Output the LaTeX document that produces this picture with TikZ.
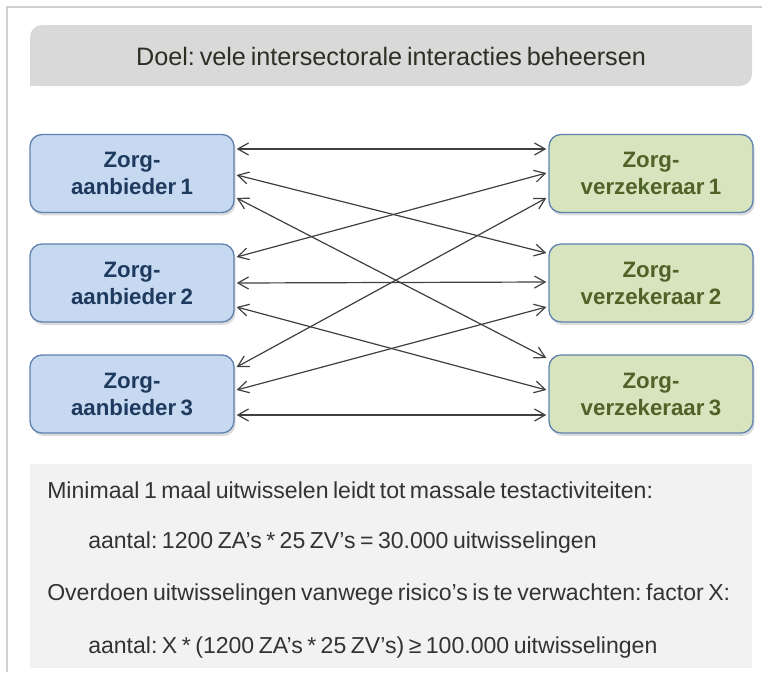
\documentclass[tikz,border=0pt]{standalone}
\usepackage{fontspec}
\setmainfont{Liberation Sans}
\newfontfamily\tightsans[WordSpace=0.7]{Liberation Sans}
\usetikzlibrary{arrows.meta,shadows,calc}
\definecolor{framegray}{HTML}{D0D0D0}
\definecolor{titlegray}{HTML}{D9D9D9}
\definecolor{titletext}{HTML}{2E2E24}
\definecolor{panelgray}{HTML}{F2F2F2}
\definecolor{paneltext}{HTML}{333333}
\definecolor{zafill}{HTML}{C6D9F1}
\definecolor{zvfill}{HTML}{D7E4BD}
\definecolor{boxborder}{HTML}{5F82B0}
\definecolor{zatext}{HTML}{1F3A5F}
\definecolor{zvtext}{HTML}{4F6228}
\definecolor{arrowgray}{HTML}{404040}
\frenchspacing
\tikzset{
  boxbase/.style={draw=boxborder, line width=1pt, rounded corners=9pt,
    minimum width=153pt, minimum height=58.5pt, inner sep=0pt, align=center,
    font=\tightsans\bfseries\fontsize{16.7pt}{20.25pt}\selectfont,
    drop shadow={shadow xshift=1.2pt, shadow yshift=-2.2pt, opacity=0.28}},
  zabox/.style={boxbase, fill=zafill, text=zatext},
  zvbox/.style={boxbase, fill=zvfill, text=zvtext},
  conn/.style={{Straight Barb[length=8pt,width=9pt]}-{Straight Barb[length=8pt,width=9pt]},
    draw=arrowgray, line width=0.9pt},
  paneltxt/.style={anchor=base west, inner sep=0pt, text=paneltext,
    font=\tightsans\fontsize{17.3pt}{20pt}\selectfont}
}
\begin{document}
\begin{tikzpicture}[x=0.75pt,y=-0.75pt]
\useasboundingbox (0,0) rectangle (762,678);
\fill[white] (0,0) rectangle (762,678);
\draw[framegray, line width=0.8pt] (7,672) -- (7,7) -- (762,7);
% title bar
\fill[titlegray, rounded corners=9pt] (30,86) -- (30,25) -- (752,25) -- (752,86) -- cycle;
\fill[titlegray] (738,25) rectangle (752,40);
\fill[titlegray] (30,72) rectangle (44,86);
\node[text=titletext, font=\tightsans\fontsize{18.9pt}{22pt}\selectfont] (title) at (391,56) {Doel: vele intersectorale interacties beheersen};
% boxes
\node[zabox] (a1) at (132,173.5) {Zorg-\\aanbieder 1};
\node[zabox] (a2) at (132,283) {Zorg-\\aanbieder 2};
\node[zabox] (a3) at (132,394) {Zorg-\\aanbieder 3};
\node[zvbox] (v1) at (651,173.5) {Zorg-\\verzekeraar 1};
\node[zvbox] (v2) at (651,283) {Zorg-\\verzekeraar 2};
\node[zvbox] (v3) at (651,394) {Zorg-\\verzekeraar 3};
% connectors
\draw[conn] ($(a1.east)+(2,-24.5)$) -- ($(v1.west)+(-2,-24.5)$);
\draw[conn] ($(a1.east)+(2,1.5)$) -- ($(v2.west)+(-2,-30)$);
\draw[conn] ($(a1.east)+(2,24.5)$) -- ($(v3.west)+(-2,-36)$);
\draw[conn] ($(a2.east)+(2,-26)$) -- ($(v1.west)+(-2,-0.5)$);
\draw[conn] ($(a2.east)+(2,0)$) -- ($(v2.west)+(-2,-1)$);
\draw[conn] ($(a2.east)+(2,24)$) -- ($(v3.west)+(-2,-4)$);
\draw[conn] ($(a3.east)+(2,-27)$) -- ($(v1.west)+(-2,24.5)$);
\draw[conn] ($(a3.east)+(2,-4)$) -- ($(v2.west)+(-2,24)$);
\draw[conn] ($(a3.east)+(2,21)$) -- ($(v3.west)+(-2,21)$);
% bottom panel
\fill[panelgray] (30,464) rectangle (752,668);
\node[paneltxt] (l1) at (47,498) {Minimaal 1 maal uitwisselen leidt tot massale testactiviteiten:};
\node[paneltxt] (l2) at (88,548) {aantal: 1200 ZA’s * 25 ZV’s = 30.000 uitwisselingen};
\node[paneltxt] (l3) at (47,600) {Overdoen uitwisselingen vanwege risico’s is te verwachten: factor X:};
\node[paneltxt] (l4) at (88,653) {aantal: X * (1200 ZA’s * 25 ZV’s) ≥ 100.000 uitwisselingen};
\end{tikzpicture}
\end{document}
